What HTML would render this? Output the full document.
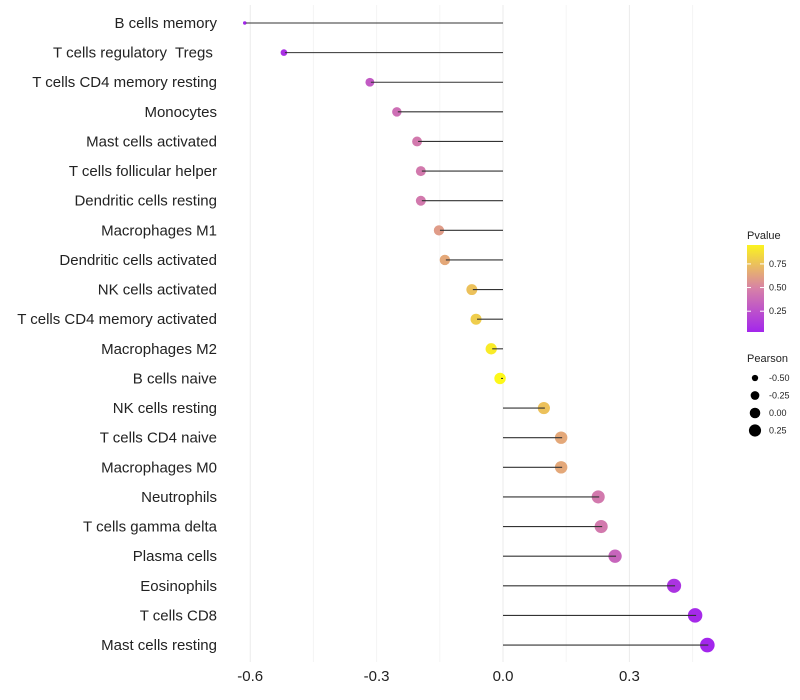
<!DOCTYPE html>
<html><head><meta charset="utf-8"><style>
body{margin:0;background:#fff;}
svg{display:block;font-family:"Liberation Sans",sans-serif;}
text{white-space:pre;}
</style></head><body>
<svg id="chart" width="800" height="700"></svg>
<script>
const categories=["B cells memory","T cells regulatory  Tregs ","T cells CD4 memory resting","Monocytes","Mast cells activated","T cells follicular helper","Dendritic cells resting","Macrophages M1","Dendritic cells activated","NK cells activated","T cells CD4 memory activated","Macrophages M2","B cells naive","NK cells resting","T cells CD4 naive","Macrophages M0","Neutrophils","T cells gamma delta","Plasma cells","Eosinophils","T cells CD8","Mast cells resting"];
const pearson=[-0.613,-0.52,-0.316,-0.252,-0.204,-0.195,-0.195,-0.152,-0.138,-0.074,-0.064,-0.028,-0.007,0.097,0.138,0.138,0.226,0.233,0.266,0.406,0.456,0.485];
const pvalue=[0.03,0.08,0.3,0.4,0.45,0.45,0.45,0.6,0.65,0.75,0.8,0.92,0.97,0.75,0.65,0.65,0.45,0.45,0.35,0.1,0.05,0.03];
const xTicks=[-0.6,-0.3,0.0,0.3];
const xTickLabels=["-0.6","-0.3","0.0","0.3"];
const legendP=[0.25,0.5,0.75];
const legendPLabels=["0.25","0.50","0.75"];
const legendSize=[-0.5,-0.25,0,0.25];
const legendSizeLabels=["-0.50","-0.25","0.00","0.25"];

const NS="http://www.w3.org/2000/svg";
const svg=document.getElementById('chart');
function el(tag,attrs,parent){const e=document.createElementNS(NS,tag);for(const k in attrs)e.setAttribute(k,attrs[k]);(parent||svg).appendChild(e);return e;}
const x=v=>503+v*421.3;
const y=i=>23+i*29.62;
const r=v=>{const a=42.4*(v+0.62);return Math.sqrt(Math.max(0,(v<-0.58?0:6.7)+a))+ (v<-0.58?1.2:0);};
function hex(c){return [parseInt(c.slice(1,3),16),parseInt(c.slice(3,5),16),parseInt(c.slice(5,7),16)];}
const stops=[[0,hex("#A020F0")],[0.5,hex("#D883A6")],[1,hex("#FFFF10")]];
function col(p){let a=stops[0],b=stops[1];if(p>0.5){a=stops[1];b=stops[2];}const t=(p-a[0])/(b[0]-a[0]);const c=a[1].map((v,k)=>Math.round(v+(b[1][k]-v)*t));return `rgb(${c[0]},${c[1]},${c[2]})`;}

for(let v=-0.6;v<=0.46;v+=0.15){const g=el('line',{x1:x(v),x2:x(v),y1:5,y2:662,stroke:Math.abs((v*100)%30)<1?'#ebebeb':'#f4f4f4','stroke-width':1});

}
xTicks.forEach((v,i)=>{const t=el('text',{x:x(v),y:681,'text-anchor':'middle','font-size':15,fill:'#222'});t.textContent=xTickLabels[i];

});

categories.forEach((c,i)=>{
 const t=el('text',{x:217,y:y(i)+5,'text-anchor':'end','font-size':15,fill:'#222'});t.textContent=c;
 
 
 const p=el('circle',{cx:x(pearson[i]),cy:y(i),r:r(pearson[i]),fill:col(pvalue[i])});
 
 
 const l=el('line',{x1:x(0),x2:x(pearson[i])+1,y1:y(i),y2:y(i),stroke:'#333','stroke-width':1.1});
 
 
});

let tt=el('text',{x:747,y:239,'font-size':11,fill:'#222'});tt.textContent='Pvalue';


const defs=el('defs',{});const lg=el('linearGradient',{id:'pg',x1:0,y1:1,x2:0,y2:0},defs);
[0,0.25,0.5,0.75,1].forEach(o=>el('stop',{offset:o,'stop-color':col(0.03+o*0.92)},lg));
const bar=el('rect',{x:747,y:245,width:17,height:87,fill:'url(#pg)'});


const py=p=>332-(p-0.03)/0.92*87;
legendP.forEach((p,i)=>{el('line',{x1:747,x2:751,y1:py(p),y2:py(p),stroke:'#fff'});el('line',{x1:760,x2:764,y1:py(p),y2:py(p),stroke:'#fff'});
const t=el('text',{x:769,y:py(p)+3,'font-size':9,fill:'#222'});t.textContent=legendPLabels[i];

});
tt=el('text',{x:747,y:362,'font-size':11,fill:'#222'});tt.textContent='Pearson';


legendSize.forEach((v,i)=>{const cy=378+i*17.5;const c=el('circle',{cx:755,cy:cy,r:r(v)*0.92,fill:'#000'});


const t=el('text',{x:769,y:cy+3,'font-size':9,fill:'#222'});t.textContent=legendSizeLabels[i];

});
</script>
</body></html>
